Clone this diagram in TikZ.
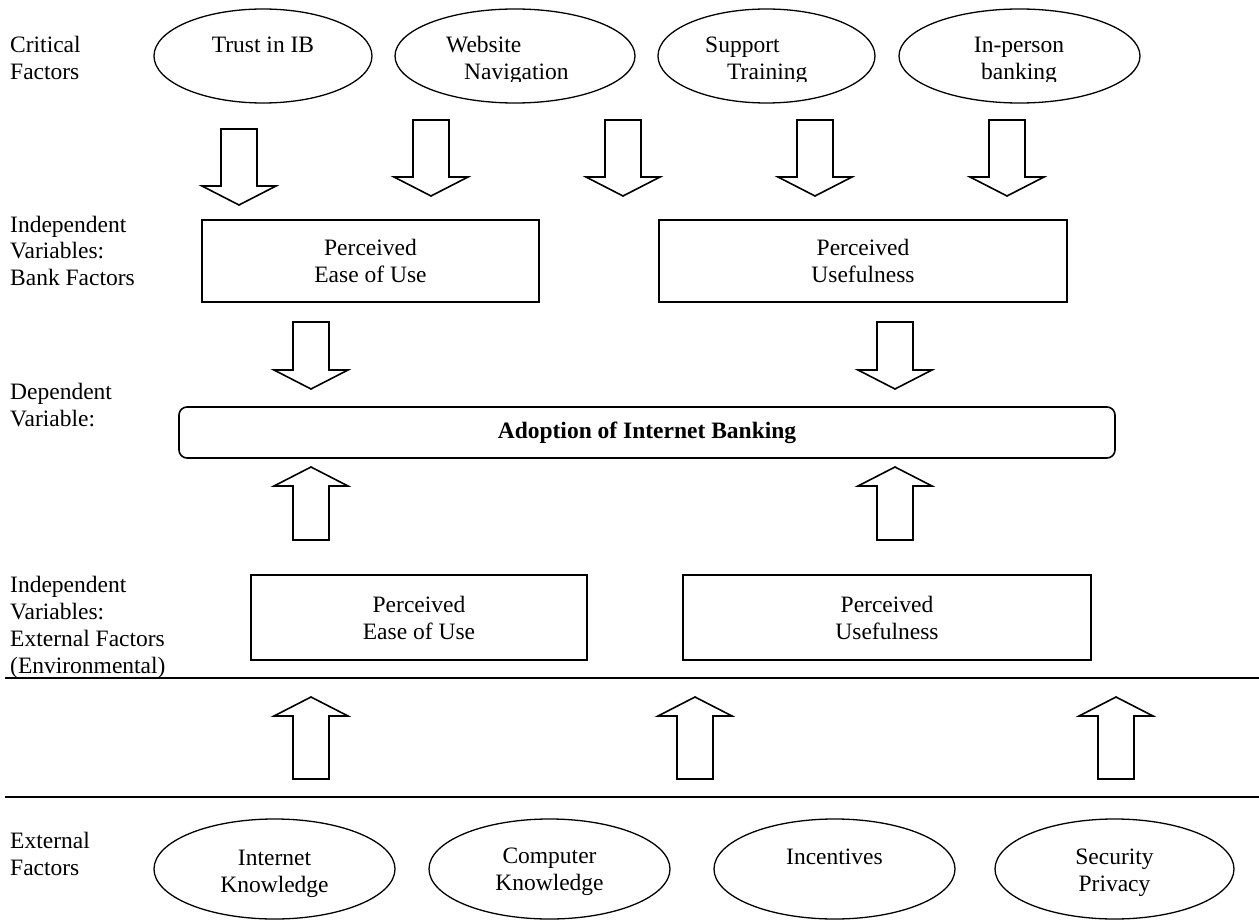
\documentclass[tikz,border=0pt]{standalone}
\usepackage{fontspec}
\setmainfont{Liberation Serif}
\usetikzlibrary{shapes.geometric}

\tikzset{
  txt/.style={font=\fontsize{23.5}{27}\selectfont, inner sep=0pt},
  oval/.style={draw, ellipse, line width=1.3pt, inner sep=0pt},
  varbox/.style={draw, txt, line width=1.6pt, align=center, minimum height=82pt},
  pics/blockarrow/.style={code={
    \draw[line width=1.6pt, line join=miter]
      (-18,0) -- (-18,{#1-19}) -- (-37,{#1-19}) -- (0,#1)
      -- (37,{#1-19}) -- (18,{#1-19}) -- (18,0) -- cycle;
  }}
}

\begin{document}
\begin{tikzpicture}[x=1pt,y=-1pt]
  \useasboundingbox (0,0) rectangle (1259,920);

  % row labels (base = last line)
  \node[txt, align=left, anchor=base west] (lcrit) at (10,80)  {Critical\\Factors};
  \node[txt, align=left, anchor=base west] (lbank) at (10,286) {Independent\\Variables:\\Bank Factors};
  \node[txt, align=left, anchor=base west] (ldep)  at (10,426) {Dependent\\Variable:};
  \node[txt, align=left, anchor=base west] (lenv)  at (10,673) {Independent\\Variables:\\External Factors\\(Environmental)};
  \node[txt, align=left, anchor=base west] (lext)  at (10,875) {External\\Factors};

  % critical factors
  \node[oval, minimum width=218pt, minimum height=94pt] (trust)   at (263,56)    {};
  \node[oval, minimum width=240pt, minimum height=94pt] (web)     at (515,56)    {};
  \node[oval, minimum width=217pt, minimum height=94pt] (support) at (766.5,56)  {};
  \node[oval, minimum width=241pt, minimum height=94pt] (person)  at (1019.5,56) {};
  \begin{scope}
    \clip (0,0) rectangle (1259,82);
    \node[txt, anchor=base]      (trustT)    at (263,53)  {Trust in IB};
    \node[txt, anchor=base west] (webT)      at (446,53)  {Website};
    \node[txt, anchor=base west] (webB)      at (464,80)  {Navigation};
    \node[txt, anchor=base west] (supportT)  at (705,53)  {Support};
    \node[txt, anchor=base west] (supportB)  at (727,80)  {Training};
    \node[txt, anchor=base]      (personT)   at (1019,53) {In-person};
    \node[txt, anchor=base]      (personB)   at (1019,80) {banking};
  \end{scope}

  \foreach \k in {0,...,4}
    \pic at ({239+192*\k},{\k==0 ? 129 : 120}) {blockarrow=76};

  % bank factors
  \node[varbox, minimum width=337pt] (peou1) at (370.5,261) {Perceived\\Ease of Use};
  \node[varbox, minimum width=408pt] (pu1)   at (863,261)   {Perceived\\Usefulness};

  \pic at (311,322) {blockarrow=67};
  \pic at (895,322) {blockarrow=67};

  \node[draw, txt, line width=1.6pt, rounded corners=8pt, minimum width=936pt, minimum height=51pt]
    (adopt) at (647,432.5) {\textbf{Adoption of Internet Banking}};

  \pic[rotate=180] at (311,540) {blockarrow=73};
  \pic[rotate=180] at (895,540) {blockarrow=73};

  % environmental factors
  \node[varbox, minimum width=336pt, minimum height=85pt] (peou2) at (419,617.5) {Perceived\\Ease of Use};
  \node[varbox, minimum width=408pt, minimum height=85pt] (pu2)   at (887,617.5) {Perceived\\Usefulness};

  \draw[line width=2pt] (5,678) -- (1259,678);
  \draw[line width=2pt] (5,797) -- (1259,797);

  \foreach \x in {311,695,1116}
    \pic[rotate=180] at (\x,779) {blockarrow=82};

  % external factors
  \node[oval, minimum width=241pt, minimum height=100pt] (inet)   at (274.5,869)  {};
  \node[oval, minimum width=241pt, minimum height=100pt] (comp)   at (549.5,869)  {};
  \node[oval, minimum width=241pt, minimum height=100pt] (incent) at (834.5,869)  {};
  \node[oval, minimum width=239pt, minimum height=100pt] (secur)  at (1114.5,869) {};
  \node[txt, align=center, anchor=base] (inetT)   at (274.5,892)  {Internet\\Knowledge};
  \node[txt, align=center, anchor=base] (compT)   at (549.5,890)  {Computer\\Knowledge};
  \node[txt, align=center, anchor=base] (incentT) at (834.5,864)  {Incentives};
  \node[txt, align=center, anchor=base] (securT)  at (1114.5,891) {Security\\Privacy};
\end{tikzpicture}
\end{document}
